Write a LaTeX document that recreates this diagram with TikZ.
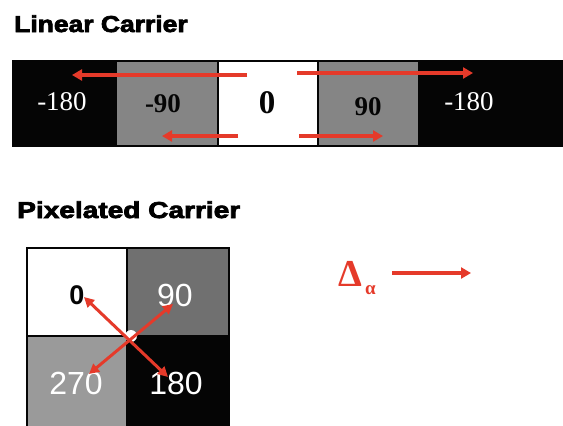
\documentclass[tikz,border=0pt]{standalone}
\usepackage{fontspec}
\setmainfont{Liberation Serif}
\newfontfamily\sansf{Liberation Sans}
\newfontfamily\heavyf[FakeBold=3]{Liberation Sans Bold}
\usetikzlibrary{arrows.meta}
\definecolor{redarrow}{HTML}{E53A2A}
\definecolor{linegray}{HTML}{858585}
\definecolor{darkgray}{HTML}{707070}
\definecolor{lightgray}{HTML}{9A9A9A}
\definecolor{nearblack}{HTML}{050505}
\tikzset{
  redarr/.style={draw=redarrow, line width=3.6pt, -{Triangle[length=10pt,width=11pt]}},
  redarrboth/.style={draw=redarrow, line width=3pt, {Triangle[length=10pt,width=10pt]}-{Triangle[length=10pt,width=10pt]}},
  cell/.style={draw=nearblack, line width=1.2pt},
  title/.style={anchor=base west, inner sep=0pt, font=\heavyf\fontsize{23}{23}\selectfont},
  linnum/.style={anchor=base, inner sep=0pt, font=\fontsize{27}{27}\selectfont},
  linbold/.style={anchor=base, inner sep=0pt, font=\bfseries\fontsize{27}{27}\selectfont},
  pixnum/.style={anchor=base, inner sep=0pt, font=\sansf\fontsize{32}{32}\selectfont},
}
\begin{document}
\begin{tikzpicture}[x=1pt,y=-1pt]
\useasboundingbox (0,0) rectangle (563,426);
\clip (0,0) rectangle (563,426);
% Linear carrier title
\node[title, xscale=1.15] (t1) at (14,32) {Linear Carrier};
% Linear bar cells
\fill[nearblack] (13,61) rectangle (117,146);
\fill[linegray] (117,61) rectangle (218,146);
\fill[white] (218,61) rectangle (318,146);
\fill[linegray] (318,61) rectangle (418,146);
\fill[nearblack] (418,61) rectangle (566,146);
\draw[cell] (13,61) rectangle (566,146);
\draw[cell] (218,61) -- (218,146);
\draw[cell] (318,61) -- (318,146);
% numbers
\node[linnum, text=white] (l1) at (62,110) {-180};
\node[linbold, text=nearblack] (l2) at (163,112) {-90};
\node[linbold, text=nearblack, font=\bfseries\fontsize{33}{33}\selectfont] (l3) at (267,113) {0};
\node[linbold, text=nearblack] (l4) at (368,115) {90};
\node[linnum, text=white] (l5) at (469,110) {-180};
% linear arrows
\coordinate (a1s) at (247,75); \coordinate (a1e) at (72,75);
\coordinate (a2s) at (297,73); \coordinate (a2e) at (473,73);
\coordinate (a3s) at (238,136); \coordinate (a3e) at (162,136);
\coordinate (a4s) at (299,136); \coordinate (a4e) at (383,136);
\draw[redarr] (a1s) -- (a1e);
\draw[redarr] (a2s) -- (a2e);
\draw[redarr] (a3s) -- (a3e);
\draw[redarr] (a4s) -- (a4e);
% Pixelated carrier title
\node[title, xscale=1.22] (t2) at (17,218) {Pixelated Carrier};
% grid
\fill[white] (27,248) rectangle (127,336);
\fill[darkgray] (127,248) rectangle (229,336);
\fill[lightgray] (27,336) rectangle (127,430);
\fill[nearblack] (127,336) rectangle (229,430);
\draw[cell] (27,430) -- (27,248) -- (229,248) -- (229,430);
\draw[cell] (127,248) -- (127,430);
\draw[cell] (27,336) -- (229,336);
\node[pixnum, text=nearblack, font=\sansf\bfseries\fontsize{27}{27}\selectfont] (p0) at (77,304) {0};
\node[pixnum, text=white] (p90) at (175,306) {90};
\node[pixnum, text=white] (p270) at (76,394) {270};
\node[pixnum, text=white] (p180) at (176,394) {180};
\fill[white] (131,336) circle (6);
\coordinate (c0) at (84,297); \coordinate (c180) at (168,377);
\coordinate (c90) at (173,304); \coordinate (c270) at (89,374);
\draw[redarrboth] (c0) -- (c180);
\draw[redarrboth] (c90) -- (c270);
% Delta alpha
\node[anchor=base, inner sep=0pt, text=redarrow, font=\bfseries\fontsize{38}{38}\selectfont] (dl) at (350,286) {Δ};
\node[anchor=base west, inner sep=0pt, text=redarrow, font=\bfseries\fontsize{19}{19}\selectfont] (al) at (365,294) {α};
\coordinate (ds) at (392,273); \coordinate (de) at (471,273);
\draw[redarr, line width=4pt] (ds) -- (de);
\end{tikzpicture}
\end{document}
